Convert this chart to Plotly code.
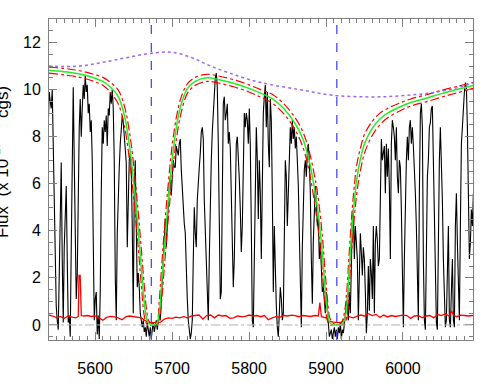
import numpy as np
import plotly.graph_objects as go

flux_a = [8.4, 9.9, 9.5, 9.2, 10.0, 7.7, 4.6, 1.4, 0.8, 0.2, -0.2, 2.1, 5.3, 6.9, 2.8, 0.1, 3.3, 5.2, 5.9, 2.8,
          0.1, 0.4, -0.5, 3.3, 7.0, 10.1, 7.0, 2.8, 1.1, 2.1, 5.6, 8.4, 9.6, 8.0, 9.2, 10.2, 9.6, 10.6, 9.9, 10.2,
          9.0, 9.4, 8.2, 8.7, 7.0, 3.5, 0.2, 1.1, 1.4, -0.4, 0.4, -0.6, 1.4, 5.6, 8.4, 7.7, 8.7, 8.2, 8.9, 7.6,
          9.2, 8.9, 9.9, 9.4, 10.0, 9.2, 7.0, 2.1, 0.2, 3.9]
flux_b = [5.6, 6.7, 7.7, 8.4, 8.9, 8.6, 8.0, 7.6, 6.9, 3.3, 4.9, 7.0, 7.3, 6.6, 4.2, 0.5, 5.6, 7.0, 4.2, 1.6,
          2.2, 1.6, 0.5, 0.1, -0.1, 0.2, -0.3, -0.1, -0.5, 0.1, -0.2, -0.5, -0.1, -0.6, -0.2, 0.1, -0.3, -0.1, 0.2, -0.2,
          0.1, 0.5, 0.2, 1.1, 2.1, 2.8, 3.9, 4.5, 3.3, 4.5, 5.3, 6.0, 6.3, 5.5, 6.3, 7.0, 6.7, 6.7, 7.6, 7.3,
          7.2, 7.7, 7.9, 6.6, 5.6, 4.6, 4.3, 3.9, 2.2, 1.1]
flux_c = [0.2, -0.2, -0.6, -0.35, 0.2, 2.8, 5.0, 3.9, 3.3, 5.3, 6.2, 6.7, 7.3, 8.2, 8.4, 7.9, 5.3, 3.9, 2.8, 1.4,
          0.2, 2.8, 5.3, 7.0, 8.2, 9.2, 10.0, 10.5, 10.7, 10.1, 7.7, 3.9, 1.1, 1.4, 5.6, 9.4, 9.7, 8.7, 9.0, 9.4,
          7.7, 8.2, 7.5, 5.9, 4.2, 1.6, 2.8, 5.6, 7.7, 8.0, 7.2, 6.2, 4.9, 3.1, 4.2, 7.0, 9.0, 8.4, 9.0, 8.7,
          7.7, 9.2, 7.6, 4.2, 0.2, -0.1, 2.8, 6.3, 8.4, 7.0]
flux_d = [4.5, 7.0, 5.6, 2.8, 7.7, 9.0, 9.7, 10.2, 8.4, 9.9, 7.7, 6.7, 9.6, 8.7, 5.6, 1.4, 4.2, 2.1, 0.8, -0.1,
          -0.5, 0.5, 1.6, 1.1, 0.2, 0.5, 4.2, 7.0, 6.3, 4.2, 5.6, 7.7, 8.4, 7.7, 8.7, 7.9, 8.4, 7.5, 8.0, 7.0,
          5.9, 3.9, 1.4, -0.1, 3.3, 5.6, 6.6, 7.0, 6.3, 7.3, 7.7, 7.0, 5.6, 2.8, 0.9, 3.6, 5.3, 5.9, 5.3, 4.2,
          4.5, 2.8, 3.5, 2.1, 1.4, 1.6, 1.1, 0.5, 1.4, 0.8]
flux_e = [-0.1, -0.5, -0.35, -0.2, -0.6, -0.35, -0.1, -0.5, -0.2, -0.6, -0.1, -0.35, 0.1, -0.6, -0.2, -0.35, 0.1, 0.5, 0.8, 1.1,
          0.2, 1.4, 0.5, 2.5, 4.5, 4.9, 2.8, 4.2, 3.3, 2.8, 0.2, 2.1, 3.9, 3.1, 2.1, 3.3, 2.8, 1.4, -0.35, 0.5,
          2.5, 0.6, 2.8, 2.2, 1.1, 4.2, 0.5, 3.5, 4.2, 3.6, 2.5, 2.8, 5.6, 7.9, 7.0, 7.3, 7.6, 5.6, 7.7, 6.3,
          7.5, 5.9, 2.8, 7.7, 8.7, 8.4, 8.0, 7.0, 8.4, 6.3]
flux_f = [5.6, 7.0, 6.7, 4.9, 2.1, -0.1, 2.8, 5.3, 7.0, 8.0, 7.0, 8.4, 8.7, 7.7, 8.4, 7.6, 6.7, 5.6, 4.2, 2.1,
          0.2, 5.6, 9.0, 9.4, 8.4, 2.8, 0.2, -0.2, 4.2, 6.3, 7.0, 8.4, 8.6, 9.2, 9.3, 7.0, 4.2, 1.6, 0.1, -0.2,
          4.2, 7.0, 8.4, 7.0, 5.3, 2.8, 0.8, -0.1, 0.2, 2.5, 4.2, 0.2, -0.1, 1.4, 2.8, 0.2, -0.1, 4.2, 5.6, 3.5,
          1.4, 0.2, 4.2, 7.7, 8.4, 9.4, 9.9, 10.3, 10.1, 8.4, 5.6, 2.8, 3.5, 4.9, 4.2, 5.6]

# error spectrum
noise_wave = [5540, 5545, 5550, 5555, 5560, 5565, 5570, 5575, 5578, 5579, 5580.5, 5582, 5585, 5590, 5595, 5600,
              5605, 5610, 5615, 5620, 5625, 5630, 5635, 5640, 5645, 5650, 5655, 5660, 5665, 5670, 5675, 5680,
              5685, 5690, 5695, 5700, 5705, 5710, 5715, 5720, 5725, 5730, 5735, 5740, 5745, 5750, 5755, 5760,
              5765, 5770, 5775, 5780, 5785, 5790, 5795, 5800, 5805, 5810, 5815, 5820, 5825, 5830, 5835, 5840,
              5845, 5850, 5855, 5860, 5865, 5870, 5875, 5880, 5885, 5890, 5892, 5894, 5900, 5905, 5910, 5915,
              5920, 5925, 5930, 5935, 5940, 5945, 5950, 5955, 5960, 5965, 5970, 5975, 5980, 5985, 5990, 5995,
              6000, 6005, 6010, 6015, 6020, 6025, 6030, 6035, 6040, 6045, 6050, 6055, 6060, 6063, 6066, 6070,
              6075, 6080, 6085, 6091]
noise_flux = [0.42, 0.38, 0.30, 0.36, 0.28, 0.38, 0.33, 0.30, 0.36, 2.10, 2.10, 0.40, 0.38, 0.40, 0.36, 0.38,
              0.30, 0.20, 0.32, 0.36, 0.34, 0.30, 0.22, 0.35, 0.38, 0.36, 0.33, 0.30, 0.18, 0.10, 0.10, 0.12,
              0.12, 0.25, 0.30, 0.28, 0.33, 0.30, 0.35, 0.30, 0.38, 0.40, 0.42, 0.25, 0.40, 0.42, 0.30, 0.42,
              0.38, 0.40, 0.28, 0.30, 0.38, 0.35, 0.36, 0.42, 0.38, 0.40, 0.35, 0.40, 0.22, 0.30, 0.35, 0.32,
              0.40, 0.38, 0.42, 0.40, 0.35, 0.40, 0.38, 0.36, 0.40, 0.38, 0.95, 0.35, 0.30, 0.15, 0.12, 0.10,
              0.12, 0.30, 0.35, 0.30, 0.36, 0.42, 0.38, 0.48, 0.40, 0.45, 0.32, 0.42, 0.34, 0.40, 0.36, 0.38,
              0.42, 0.40, 0.28, 0.38, 0.40, 0.30, 0.38, 0.40, 0.30, 0.44, 0.40, 0.48, 0.38, 0.60, 0.40, 0.35,
              0.42, 0.40, 0.38, 0.40]

# model fit and its upper / lower envelope
model_wave = [5540, 5560, 5580, 5600, 5610, 5620, 5630, 5638, 5645, 5650, 5655, 5660, 5664, 5667, 5670, 5675,
              5680, 5683, 5686, 5690, 5695, 5700, 5706, 5712, 5720, 5730, 5745, 5760, 5780, 5800, 5815, 5830,
              5845, 5860, 5870, 5878, 5885, 5890, 5895, 5899, 5902, 5905, 5910, 5915, 5920, 5924, 5927, 5930,
              5935, 5940, 5945, 5950, 5960, 5970, 5980, 5995, 6010, 6030, 6050, 6070, 6091]
model_flux = [10.82, 10.76, 10.66, 10.48, 10.35, 10.10, 9.70, 8.90, 7.50, 6.10, 4.40, 2.40, 0.90, 0.25, 0.05, 0.0,
              0.05, 0.45, 1.60, 3.30, 5.30, 7.00, 8.50, 9.40, 10.05, 10.35, 10.50, 10.43, 10.27, 10.05, 9.85, 9.62,
              9.20, 8.55, 7.90, 7.00, 5.80, 4.70, 3.10, 1.50, 0.55, 0.10, 0.0, 0.0, 0.02, 0.20, 0.80, 2.30,
              4.60, 6.20, 7.10, 7.70, 8.35, 8.75, 9.00, 9.25, 9.45, 9.63, 9.83, 10.00, 10.18]
model_hi = [10.95, 10.90, 10.80, 10.63, 10.52, 10.30, 9.98, 9.30, 8.10, 6.80, 5.15, 3.20, 1.60, 0.60, 0.15, 0.05,
            0.10, 0.90, 2.30, 4.10, 6.00, 7.60, 8.90, 9.70, 10.25, 10.52, 10.65, 10.58, 10.42, 10.20, 10.00, 9.80,
            9.40, 8.80, 8.20, 7.40, 6.35, 5.35, 3.85, 2.20, 1.05, 0.30, 0.05, 0.0, 0.08, 0.55, 1.45, 3.00,
            5.30, 6.80, 7.55, 8.10, 8.65, 9.00, 9.20, 9.42, 9.60, 9.78, 9.97, 10.13, 10.30]
model_lo = [10.70, 10.62, 10.52, 10.33, 10.18, 9.88, 9.40, 8.45, 6.90, 5.40, 3.65, 1.70, 0.35, 0.05, 0.0, 0.0,
            0.0, 0.10, 0.90, 2.50, 4.50, 6.30, 8.00, 9.05, 9.85, 10.18, 10.35, 10.28, 10.12, 9.90, 9.68, 9.43,
            8.98, 8.28, 7.55, 6.55, 5.20, 4.00, 2.35, 0.85, 0.15, 0.0, 0.0, 0.0, 0.0, 0.05, 0.30, 1.60,
            3.90, 5.60, 6.60, 7.30, 8.05, 8.50, 8.80, 9.08, 9.30, 9.48, 9.68, 9.86, 10.05]

# continuum (dotted purple)
cont_wave = [5540, 5560, 5580, 5600, 5620, 5640, 5660, 5680, 5695, 5710, 5730, 5750, 5775, 5800, 5830, 5866,
             5890, 5914, 5940, 5966, 5990, 6018, 6040, 6061, 6091]
cont_flux = [11.0, 10.98, 11.0, 11.1, 11.22, 11.35, 11.48, 11.57, 11.6, 11.52, 11.3, 11.0, 10.7, 10.43, 10.2, 10.0,
             9.85, 9.74, 9.7, 9.69, 9.72, 9.79, 9.88, 10.0, 10.28]

line_centres = [5673, 5914]

spec_flux = flux_a + flux_b + flux_c + flux_d + flux_e + flux_f
spec_wave = np.linspace(5539, 6091.5, len(spec_flux))

fig = go.Figure()
fig.add_trace(go.Scatter(x=spec_wave, y=spec_flux, mode="lines",
                         line=dict(color="black", width=1.1)))
fig.add_trace(go.Scatter(x=noise_wave, y=noise_flux, mode="lines",
                         line=dict(color="red", width=1.3)))
fig.add_hline(y=0, line=dict(color="#b0b0b0", width=1, dash="dashdot"))
fig.add_trace(go.Scatter(x=model_wave, y=model_hi, mode="lines", line_shape="spline",
                         line=dict(color="red", width=1.2, dash="dashdot")))
fig.add_trace(go.Scatter(x=model_wave, y=model_lo, mode="lines", line_shape="spline",
                         line=dict(color="red", width=1.2, dash="dashdot")))
fig.add_trace(go.Scatter(x=model_wave, y=model_flux, mode="lines", line_shape="spline",
                         line=dict(color="#22ee22", width=1.5)))
fig.add_trace(go.Scatter(x=cont_wave, y=cont_flux, mode="lines", line_shape="spline",
                         line=dict(color="#a066f0", width=1.5, dash="dot")))
for c in line_centres:
    fig.add_vline(x=c, line=dict(color="#4a4aff", width=1.3, dash="dash"))

# y title sits partly off the left edge, as in the original
fig.add_annotation(text="Flux  (x 10<sup>-17</sup>     cgs)", textangle=-90,
                   xref="paper", yref="paper", x=-0.115, y=0.555,
                   xanchor="center", yanchor="middle", showarrow=False,
                   font=dict(size=17, color="black"))

ax = dict(showline=True, linecolor="#808080", linewidth=1, mirror="allticks",
          ticks="inside", tickcolor="#808080", showgrid=False, zeroline=False,
          automargin=False, tickfont=dict(size=16, color="black"))
fig.update_xaxes(range=[5540, 6091], dtick=100, ticklen=8, ticklabelstandoff=14,
                 minor=dict(dtick=10, ticks="inside", ticklen=4, tickcolor="#808080"), **ax)
fig.update_yaxes(range=[-0.64, 13.0], dtick=2, ticklen=8, ticklabelstandoff=4,
                 minor=dict(dtick=0.5, ticks="inside", ticklen=4, tickcolor="#808080"), **ax)
fig.update_layout(width=498, height=388, margin=dict(l=49, r=25, t=19, b=48),
                  plot_bgcolor="white", paper_bgcolor="white", showlegend=False,
                  font=dict(family="Liberation Sans, Arial, sans-serif"))
fig.write_html("out.html", config={"displayModeBar": False},
               post_script="document.body.style.margin = '0px';")
